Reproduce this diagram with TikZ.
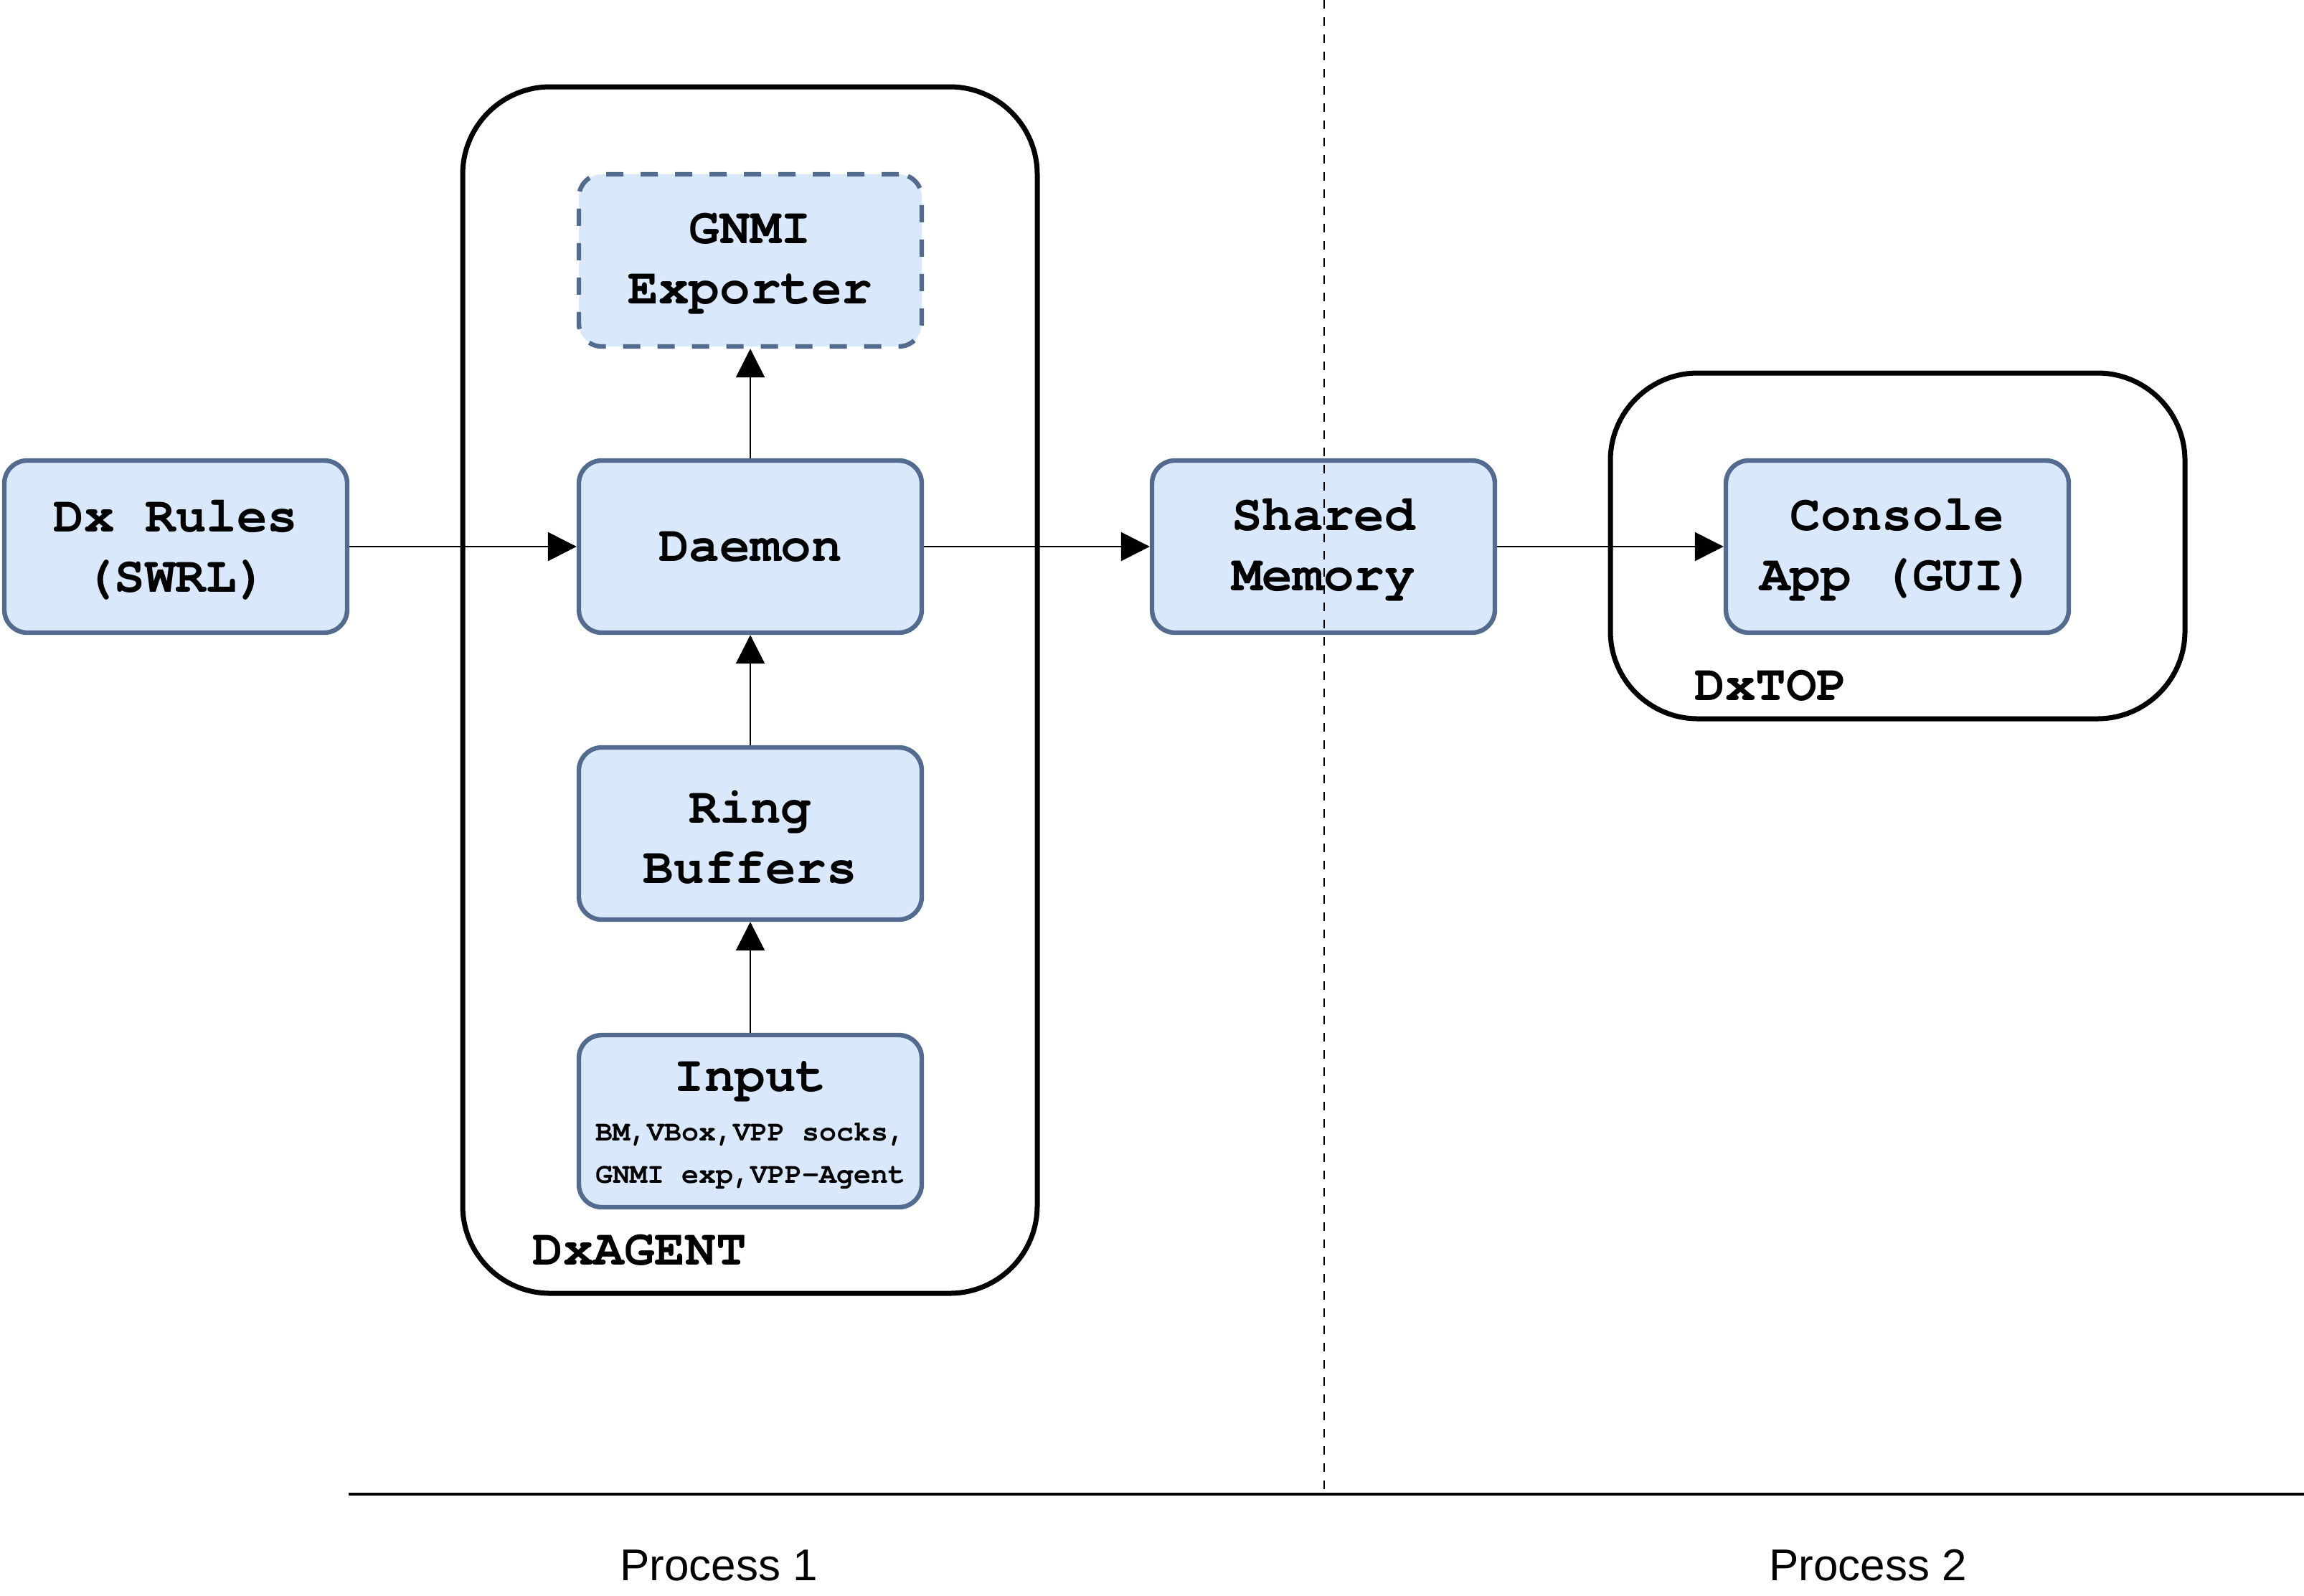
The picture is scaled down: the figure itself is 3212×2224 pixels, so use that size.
\documentclass[tikz,border=0pt]{standalone}
\usepackage{fontspec}
\setmonofont{TeX Gyre Cursor}[Ligatures={NoCommon}]
\newfontfamily\arialf{Liberation Sans}
\usetikzlibrary{arrows.meta}
\definecolor{boxfill}{HTML}{DAE8FC}
\definecolor{boxline}{RGB}{82,107,143}
\begin{document}
\begin{tikzpicture}[x=0.5pt,y=-0.5pt,
  box/.style={draw=boxline, fill=boxfill, line width=3.2pt, rounded corners=16pt,
    minimum width=239pt, minimum height=120pt, inner sep=0pt},
  boxtxt/.style={inner sep=0pt, align=center,
    font=\fontsize{35.5}{42}\selectfont\ttfamily\bfseries},
  dashbox/.style={dash pattern=on 12pt off 12pt},
  container/.style={draw=black, line width=3.5pt, rounded corners=61pt, inner sep=0pt},
  conn/.style={line width=1.4pt, -{Triangle[length=20pt,width=20pt]}},
  lbl/.style={inner sep=0pt, anchor=west, font=\fontsize{35.5}{42}\selectfont\ttfamily\bfseries},
  proc/.style={inner sep=0pt, font=\arialf\fontsize{31}{37}\selectfont}
]
\useasboundingbox (0,0) rectangle (3212,2224);
% containers
\node[container, minimum width=400.5pt, minimum height=841pt] (agent) at (1045.5,962) {};
\node[container, minimum width=400.5pt, minimum height=241pt] (top) at (2645.5,761) {};
% boxes
\node[box] (rules) at (245,762) {};
\node[box] (daemon) at (1046,762) {};
\node[box, dashbox] (gnmi) at (1046,363) {};
\node[box] (ring) at (1046,1162) {};
\node[box] (input) at (1046,1563) {};
\node[box] (shm) at (1845,762) {};
\node[box] (console) at (2645,762) {};
% box texts
\node[boxtxt] (rulest) at ([yshift=-2.5pt]rules.center) {Dx Rules\\(SWRL)};
\node[boxtxt] (daemont) at (daemon.center) {Daemon};
\node[boxtxt] (gnmit) at ([yshift=-2.5pt]gnmi.center) {GNMI\\Exporter};
\node[boxtxt] (ringt) at ([yshift=-2.5pt]ring.center) {Ring\\Buffers};
\node[boxtxt] (shmt) at ([yshift=-2.5pt]shm.center) {Shared\\Memory};
\node[boxtxt] (consolet) at ([yshift=-2.5pt]console.center) {Console\\App (GUI)};
\node[boxtxt] (inputtitle) at (1046,1508) {Input};
\node[inner sep=0pt, align=center, font=\fontsize{20}{29.5}\selectfont\ttfamily\bfseries] (inputsub) at (1046,1612) {BM,VBox,VPP socks,\\GNMI exp,VPP-Agent};
% labels
\node[lbl] (agentlbl) at (742,1743) {DxAGENT};
\node[lbl] (toplbl) at (2362,956) {DxTOP};
% connectors
\draw[conn] (rules) -- (daemon);
\draw[conn] (daemon) -- (gnmi);
\draw[conn] (ring) -- (daemon);
\draw[conn] (input) -- (ring);
\draw[conn] (daemon) -- (shm);
\draw[conn] (shm) -- (console);
% process separators
\coordinate (dtop) at (1846,0);
\coordinate (dbot) at (1846,2083);
\coordinate (hl) at (486,2083);
\coordinate (hr) at (3212,2083);
\draw[line width=1.4pt, dash pattern=on 6pt off 6pt] (dtop) -- (dbot);
\draw[line width=1.7pt] (hl) -- (hr);
\node[proc] (p1) at (1002,2182) {Process 1};
\node[proc] (p2) at (2604,2182) {Process 2};
\end{tikzpicture}
\end{document}
